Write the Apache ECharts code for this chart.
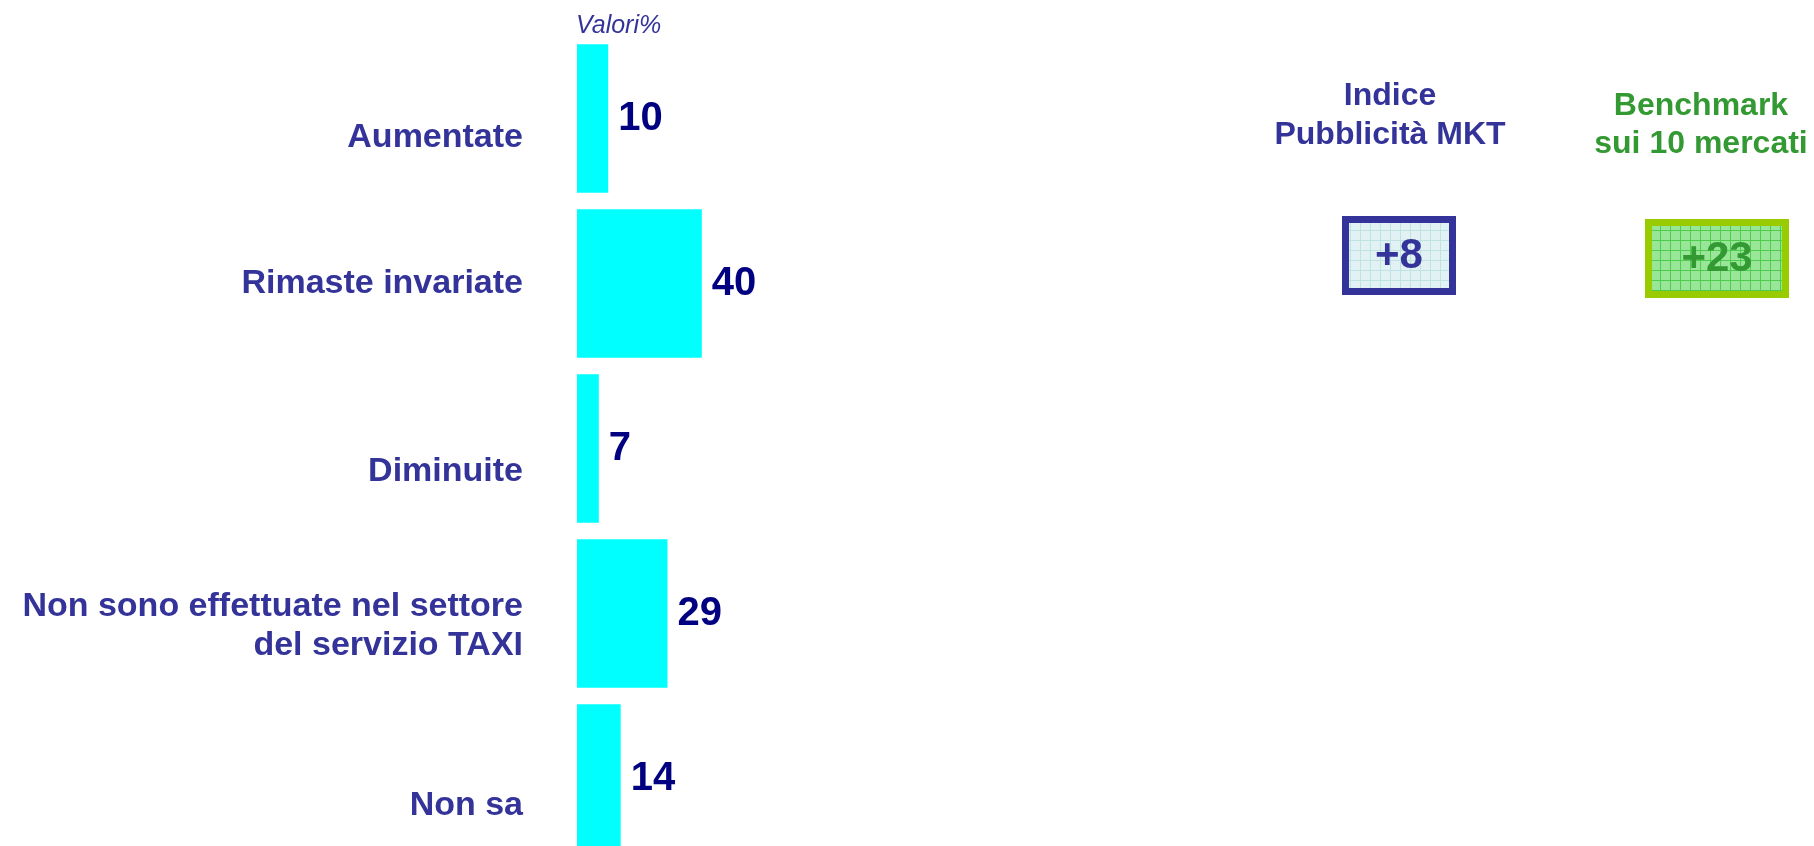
<!DOCTYPE html>
<html>
<head>
<meta charset="utf-8">
<script src="https://cdn.jsdelivr.net/npm/echarts@6/dist/echarts.min.js"></script>
<style>
  html, body { margin: 0; padding: 0; background: #fff; }
  #chart { width: 1814px; height: 846px; }
</style>
</head>
<body>
<div id="chart"></div>
<script>
var categories = ['Aumentate', 'Rimaste invariate', 'Diminuite', 'Non sono effettuate nel settore\ndel servizio TAXI', 'Non sa'];
var values = [10, 40, 7, 29, 14];
var indexTitles = ['Indice\nPubblicità MKT', 'Benchmark\nsui 10 mercati'];
var indexValues = ['+8', '+23'];

var FONT = "'Liberation Sans', Arial, sans-serif";

// small grid pattern for the two boxes
function gridPattern(bg, line) {
    var c = document.createElement('canvas');
    c.width = 10; c.height = 10;
    var ctx = c.getContext('2d');
    ctx.fillStyle = bg;
    ctx.fillRect(0, 0, 10, 10);
    ctx.fillStyle = line;
    ctx.fillRect(0, 0, 10, 1);
    ctx.fillRect(0, 0, 1, 10);
    return { image: c, repeat: 'repeat' };
}

var dom = document.getElementById('chart');
var myChart = echarts.init(dom);

var labelStyles = ['a0', 'a1', 'a2', null, 'a4'];

option = {
    backgroundColor: '#ffffff',
    animation: false,
    grid: {
        left: 577,
        top: 36,
        width: 312,
        height: 825,
        outerBoundsMode: 'none'
    },
    xAxis: {
        type: 'value',
        min: 0,
        max: 100,
        show: false
    },
    yAxis: {
        type: 'category',
        inverse: true,
        data: categories,
        axisLine: { show: false },
        axisTick: { show: false },
        splitLine: { show: false },
        axisLabel: {
            margin: 54,
            color: '#333399',
            fontFamily: FONT,
            fontWeight: 'bold',
            fontSize: 34,
            lineHeight: 39,
            align: 'right',
            padding: [26, 0, 0, 0],
            formatter: function (value, index) {
                var s = labelStyles[index];
                return s ? '{' + s + '|' + value + '}' : value;
            },
            rich: {
                a0: { fontFamily: FONT, fontSize: 34, fontWeight: 'bold', color: '#333399', padding: [12, 0, 0, 0] },
                a1: { fontFamily: FONT, fontSize: 34, fontWeight: 'bold', color: '#333399', padding: [0, 0, 26, 0] },
                a2: { fontFamily: FONT, fontSize: 34, fontWeight: 'bold', color: '#333399', padding: [20, 0, 0, 0] },
                a4: { fontFamily: FONT, fontSize: 34, fontWeight: 'bold', color: '#333399', padding: [28, 0, 0, 0] }
            }
        }
    },
    series: [{
        type: 'bar',
        data: values,
        barCategoryGap: '10%',
        itemStyle: { color: '#00ffff' },
        label: {
            show: true,
            position: 'right',
            distance: 10,
            color: '#000080',
            fontFamily: "'Liberation Sans Narrow', 'Liberation Sans', Arial, sans-serif",
            fontWeight: 'bold',
            fontSize: 40
        }
    }],
    graphic: [
        {
            type: 'text', left: 576, top: 14,
            style: { text: 'Valori%', fill: '#333399', fontSize: 25, fontStyle: 'italic', fontFamily: FONT }
        },
        {
            type: 'text', x: 1390, y: 116,
            style: {
                text: indexTitles[0], fill: '#333399', fontSize: 32, fontWeight: 'bold', lineHeight: 39,
                align: 'center', verticalAlign: 'middle', fontFamily: FONT
            }
        },
        {
            type: 'text', x: 1701, y: 125,
            style: {
                text: indexTitles[1], fill: '#339933', fontSize: 32, fontWeight: 'bold', lineHeight: 38,
                align: 'center', verticalAlign: 'middle', fontFamily: FONT
            }
        },
        {
            type: 'rect',
            shape: { x: 1345.5, y: 219.5, width: 107, height: 72 },
            style: { fill: gridPattern('#e2f1f3', '#bfe3e3'), stroke: '#333399', lineWidth: 7 }
        },
        {
            type: 'text', x: 1399, y: 256,
            style: {
                text: indexValues[0], fill: '#333399', fontSize: 42, fontWeight: 'bold',
                align: 'center', verticalAlign: 'middle', fontFamily: FONT
            }
        },
        {
            type: 'rect',
            shape: { x: 1648.5, y: 222.5, width: 137, height: 72 },
            style: { fill: gridPattern('#99e699', '#4dcc4d'), stroke: '#99cc00', lineWidth: 7 }
        },
        {
            type: 'text', x: 1717, y: 259,
            style: {
                text: indexValues[1], fill: '#339933', fontSize: 42, fontWeight: 'bold',
                align: 'center', verticalAlign: 'middle', fontFamily: FONT
            }
        }
    ]
};

if (option && typeof option === 'object') {
    myChart.setOption(option, true);
}
</script>
</body>
</html>
